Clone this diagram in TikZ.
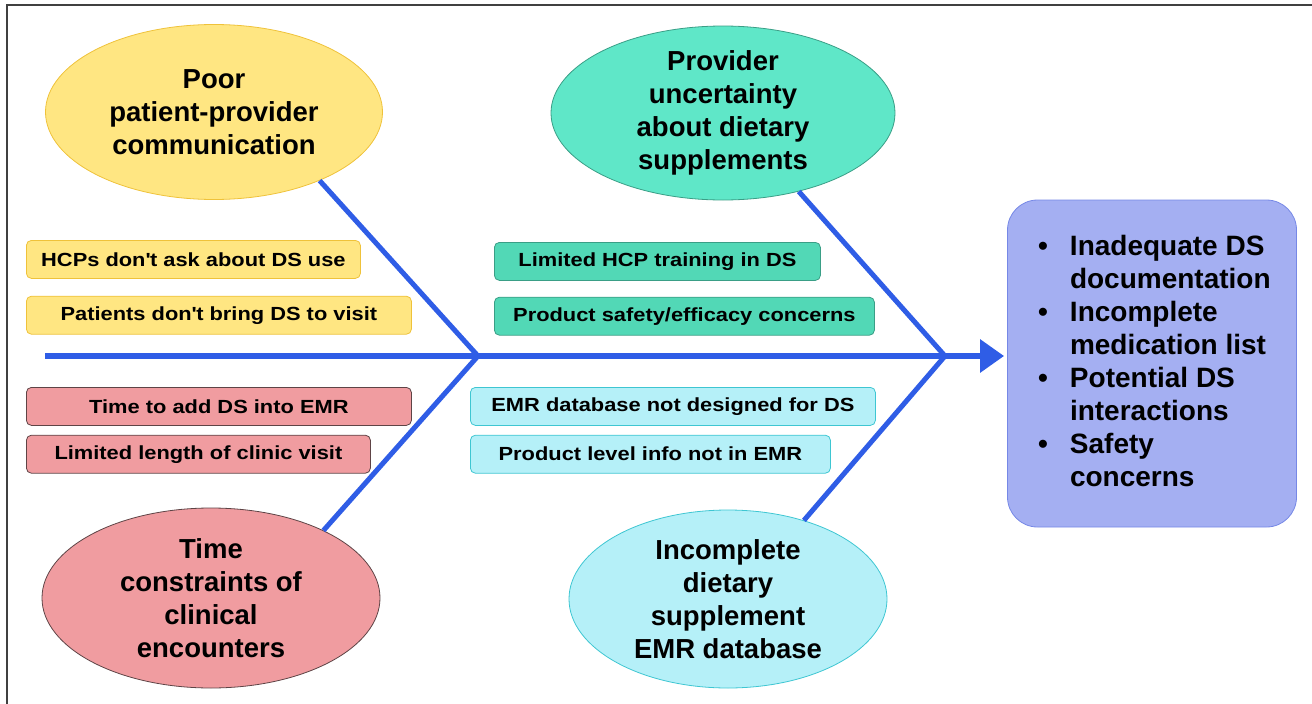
\documentclass[tikz,border=0pt]{standalone}
\usepackage{fontspec}
\setmainfont{Liberation Sans}
\newfontfamily\widesans[FakeStretch=1.15]{Liberation Sans}
\usetikzlibrary{positioning, shapes.geometric, arrows.meta}

\definecolor{fishblue}{HTML}{2F5DE6}
\definecolor{commfill}{HTML}{FFE682}
\definecolor{commline}{HTML}{EFC23A}
\definecolor{provfill}{HTML}{5FE7C8}
\definecolor{provbox}{HTML}{52D8B6}
\definecolor{provline}{HTML}{3A9E86}
\definecolor{timefill}{HTML}{F09CA0}
\definecolor{timeline}{HTML}{5E4446}
\definecolor{emrfill}{HTML}{B5F0F8}
\definecolor{emrline}{HTML}{3EC6D2}
\definecolor{effectfill}{HTML}{A4AFF2}
\definecolor{effectline}{HTML}{7688E6}

\newcommand{\apos}{\textquotesingle}

\begin{document}
\begin{tikzpicture}[x=1pt, y=-1pt,
    cause/.style={ellipse, draw, line width=.8pt, inner sep=-4pt, align=center,
      font=\bfseries\fontsize{27.5}{33}\selectfont},
    fact/.style={draw, line width=.8pt, rounded corners=5pt, minimum height=38pt,
      inner sep=0pt, font=\widesans\bfseries\fontsize{19}{21}\selectfont},
    bone/.style={line width=5pt, draw=fishblue},
    spine/.style={line width=6pt, draw=fishblue, shorten >=3pt,
      -{Triangle[length=24pt, width=32pt]}}
  ]
  \useasboundingbox (0,0) rectangle (1312,704);
  % frame edges
  \draw[line width=2pt, black!75] (1312,5) -- (6.5,5) -- (6.5,704);

  % the four cause categories
  \node[cause, fill=commfill, draw=commline, minimum width=337pt, minimum height=175pt]
    (comm) at (214,112) {Poor\\patient-provider\\communication};
  \node[cause, fill=provfill, draw=provline, minimum width=344pt, minimum height=174pt]
    (prov) at (723,113) {Provider\\uncertainty\\about dietary\\supplements};
  \node[cause, fill=timefill, draw=timeline, minimum width=338pt, minimum height=180pt]
    (time) at (211,598) {Time\\constraints of\\clinical\\encounters};
  \node[cause, fill=emrfill, draw=emrline, minimum width=318pt, minimum height=178pt]
    (emr) at (728,599) {Incomplete\\dietary\\supplement\\EMR database};

  % effect box
  \node[draw=effectline, fill=effectfill, line width=.8pt, rounded corners=30pt,
    minimum width=289pt, minimum height=327pt] (effect) at (1152,363.5) {};
  \node[anchor=west, inner sep=0pt, font=\bfseries\fontsize{28}{33}\selectfont]
    (effecttext) at (1038,364) {%
    \begin{tabular}{@{}c@{\hspace{22pt}}l@{}}
      \textbullet & Inadequate DS\\
                  & documentation\\
      \textbullet & Incomplete\\
                  & medication list\\
      \textbullet & Potential DS\\
                  & interactions\\
      \textbullet & Safety\\
                  & concerns
    \end{tabular}};

  % sub-causes
  \node[fact, fill=commfill, draw=commline, minimum width=334pt, anchor=north west]
    (hcp) at (26,240) {HCPs don\apos t ask about DS use};
  \node[fact, fill=commfill, draw=commline, minimum width=385pt,
    below=17pt of hcp.south west, anchor=north west] (bring) {Patients don\apos t bring DS to visit};
  \node[fact, fill=provbox, draw=provline, minimum width=326pt, anchor=north west]
    (train) at (494,242) {Limited HCP training in DS};
  \node[fact, fill=provbox, draw=provline, minimum width=380pt,
    below=16pt of train.south west, anchor=north west] (safety) {Product safety/efficacy concerns};
  \node[fact, fill=timefill, draw=timeline, minimum width=385pt, anchor=north west]
    (addemr) at (26,387) {Time to add DS into EMR};
  \node[fact, fill=timefill, draw=timeline, minimum width=344pt,
    below=9pt of addemr.south west, anchor=north west] (length) {Limited length of clinic visit};
  \node[fact, fill=emrfill, draw=emrline, minimum width=405pt, anchor=north west]
    (design) at (470,387) {EMR database not designed for DS};
  \node[fact, fill=emrfill, draw=emrline, minimum width=360pt,
    below=9pt of design.south west, anchor=north west] (level) {Product level info not in EMR};

  % fish bones
  \coordinate (tail) at (45,356);
  \coordinate (jl) at (478,356);
  \coordinate (jr) at (945,356);
  \draw[bone] (comm.-33) -- (jl) -- (time.31);
  \draw[bone] (prov.-46) -- (jr) -- (emr.46);
  \draw[spine] (tail) -- (tail -| effect.west);
\end{tikzpicture}
\end{document}
